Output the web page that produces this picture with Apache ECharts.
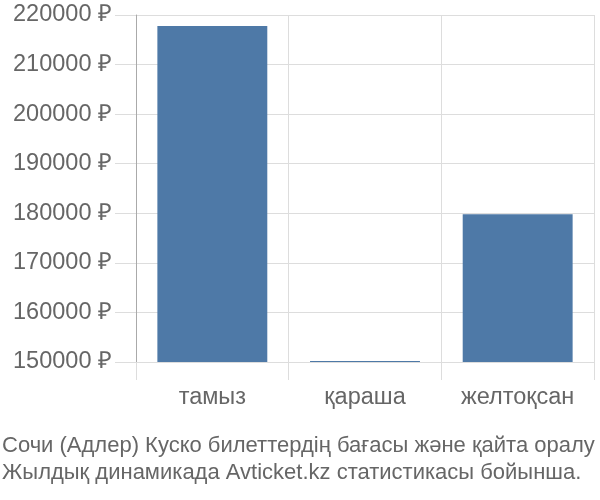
<!DOCTYPE html>
<html><head><meta charset="utf-8">
<script src="https://cdn.jsdelivr.net/npm/echarts@6/dist/echarts.min.js"></script>
<style>html,body{margin:0;padding:0;background:#fff}#c{width:600px;height:500px}</style>
</head><body><div id="c"></div>
<script>
const categories = ['тамыз', 'қараша', 'желтоқсан'];
const prices = [217800, 150200, 179800];
const yTicks = [150000, 160000, 170000, 180000, 190000, 200000, 210000, 220000];
const titleLines = ['Сочи (Адлер) Куско билеттердің бағасы және қайта оралу', 'Жылдық динамикада Avticket.kz статистикасы бойынша.'];

const chart = echarts.init(document.getElementById('c'));
chart.setOption({
  animation: false,
  textStyle: {fontFamily: 'Liberation Sans, Arial, sans-serif'},
  title: {
    text: titleLines.join('\n'), left: 2, top: 432, padding: 0,
    textStyle: {fontSize: 22, fontWeight: 'normal', color: '#666', lineHeight: 27, fontFamily: 'Liberation Sans'}
  },
  grid: {left: 136, right: 6, top: 15, bottom: 138},
  xAxis: {
    type: 'category', data: categories,
    axisLine: {show: false},
    axisTick: {show: true, length: 18, lineStyle: {color: '#ddd'}},
    splitLine: {show: true, lineStyle: {color: '#ddd'}},
    axisLabel: {fontSize: 23.5, color: '#666', margin: 24}
  },
  yAxis: {
    type: 'value', min: yTicks[0], max: yTicks[yTicks.length - 1], interval: 10000,
    axisLine: {show: true, lineStyle: {color: '#aaa'}},
    axisTick: {show: true, length: 21, lineStyle: {color: '#ddd'}},
    splitLine: {show: true, lineStyle: {color: '#ddd'}},
    axisLabel: {fontSize: 23.5, color: '#666', margin: 24, formatter: v => v + ' ₽'}
  },
  series: [{
    type: 'bar', data: prices, barWidth: '72%',
    itemStyle: {color: '#4e79a7'}
  }]
});
</script></body></html>
